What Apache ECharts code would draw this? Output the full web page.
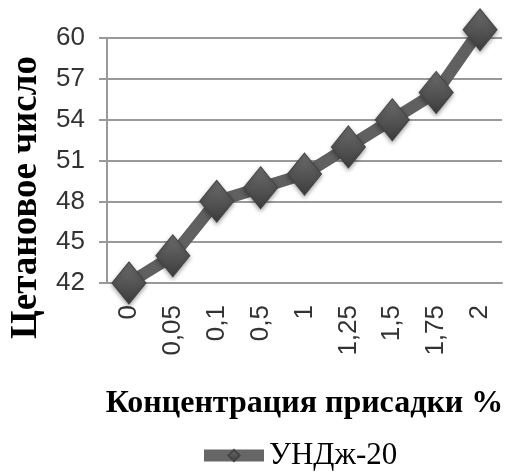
<!DOCTYPE html>
<html>
<head>
<meta charset="utf-8">
<script src="https://cdn.jsdelivr.net/npm/echarts@6/dist/echarts.min.js"></script>
<style>
html,body{margin:0;padding:0;background:#fff;}
#c{width:518px;height:473px;}
</style>
</head>
<body>
<div id="c"></div>
<script>
var categories = ['0', '0,05', '0,1', '0,5', '1', '1,25', '1,5', '1,75', '2'];
var values = [42, 44, 48, 49, 50, 52, 54, 56, 60.6];
var seriesName = 'УНДж-20';
var yTicks = {min: 42, max: 60, interval: 3};

var chart = echarts.init(document.getElementById('c'), null, {renderer: 'canvas'});
chart.setOption({
  animation: false,
  backgroundColor: '#fff',
  grid: {left: 102, right: 16, top: 38, bottom: 190},
  legend: {
    data: [seriesName],
    left: 193, top: 435,
    itemWidth: 60, itemHeight: 14,
    itemGap: 0,
    lineStyle: {width: 12, color: '#666'},
    textStyle: {fontFamily: 'Liberation Serif', fontSize: 31, color: '#000'}
  },
  xAxis: {
    type: 'category',
    data: categories,
    boundaryGap: true,
    name: 'Концентрация присадки %',
    nameLocation: 'middle',
    nameGap: 105,
    nameTextStyle: {fontFamily: 'Liberation Serif', fontWeight: 'bold', fontSize: 32, color: '#000'},
    axisLine: {show: true, lineStyle: {color: '#999', width: 2}},
    axisTick: {show: false},
    axisLabel: {rotate: 90, margin: 22, fontFamily: 'Liberation Sans', fontSize: 26, color: '#333'},
    splitLine: {show: false}
  },
  yAxis: {
    type: 'value',
    min: yTicks.min, max: yTicks.max, interval: yTicks.interval,
    name: 'Цетановое число',
    nameLocation: 'middle',
    nameGap: 62,
    nameTextStyle: {fontFamily: 'Liberation Serif', fontWeight: 'bold', fontSize: 37, color: '#000', padding: [0, 74, 0, 0]},
    axisLine: {show: true, lineStyle: {color: '#999', width: 2}},
    axisTick: {show: true, length: 8, lineStyle: {color: '#999', width: 2}},
    axisLabel: {margin: 22, fontFamily: 'Liberation Sans', fontSize: 26, color: '#333'},
    splitLine: {show: true, lineStyle: {color: '#999', width: 2}}
  },
  series: [{
    name: seriesName,
    type: 'line',
    data: values,
    clip: false,
    symbol: 'diamond',
    symbolSize: [34, 42],
    lineStyle: {color: '#606060', width: 12},
    itemStyle: {
      color: new echarts.graphic.LinearGradient(0, 0, 0, 1, [
        {offset: 0, color: '#6e6e6e'},
        {offset: 0.5, color: '#555'},
        {offset: 1, color: '#3c3c3c'}
      ]),
      borderColor: '#444', borderWidth: 1,
      shadowColor: 'rgba(0,0,0,0.35)', shadowBlur: 4, shadowOffsetY: 2
    }
  }]
});
</script>
</body>
</html>
